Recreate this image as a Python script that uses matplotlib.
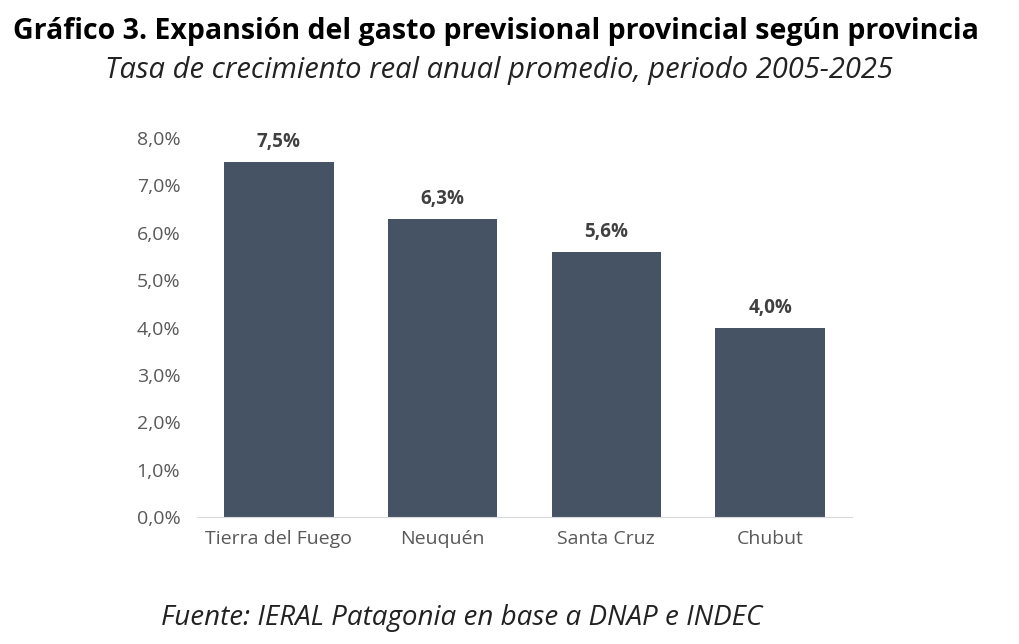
import matplotlib
matplotlib.use("Agg")
import matplotlib.pyplot as plt
from matplotlib.ticker import FuncFormatter

# Data
provincias = ["Tierra del Fuego", "Neuquén", "Santa Cruz", "Chubut"]
crecimiento = [7.5, 6.3, 5.6, 4.0]
yticks = [0, 1, 2, 3, 4, 5, 6, 7, 8]

plt.rcParams["font.family"] = ["Open Sans", "DejaVu Sans"]

BAR = "#465365"
TXT = "#595959"

fig = plt.figure(figsize=(10.2, 6.44), dpi=100)
ax = fig.add_axes([0.1931, 0.1972, 0.6422, 0.5885])

x = range(len(provincias))
ax.bar(x, crecimiento, width=0.67, color=BAR, zorder=2)
for xi, v in zip(x, crecimiento):
	ax.text(xi, v + 0.2, f"{v:.1f}%".replace(".", ","), ha="center", va="bottom",
			fontsize=13.5, fontweight="bold", color="#404040")

ax.set_xlim(-0.5, 3.5)
ax.set_ylim(0, 8)
ax.set_yticks(yticks)
ax.yaxis.set_major_formatter(FuncFormatter(lambda v, _: f"{v:.1f}%".replace(".", ",")))
ax.set_xticks(list(x))
ax.set_xticklabels(provincias)
ax.tick_params(axis="both", length=0, labelsize=14, labelcolor=TXT)
ax.tick_params(axis="x", pad=9)
ax.tick_params(axis="y", pad=12)
for s in ("top", "right", "left"):
	ax.spines[s].set_visible(False)
ax.spines["bottom"].set_color("#d9d9d9")

fig.text(0.486, 0.951, "Gráfico 3. Expansión del gasto previsional provincial según provincia",
		 ha="center", va="center", fontsize=20.5, fontweight="bold", color="black")
fig.text(0.489, 0.891, "Tasa de crecimiento real anual promedio, periodo 2005-2025",
		 ha="center", va="center", fontsize=21, style="italic", color="#222222")
fig.text(0.453, 0.040, "Fuente: IERAL Patagonia en base a DNAP e INDEC",
		 ha="center", va="center", fontsize=20, style="italic", color="#222222")

fig.savefig("out.png", dpi=100)
